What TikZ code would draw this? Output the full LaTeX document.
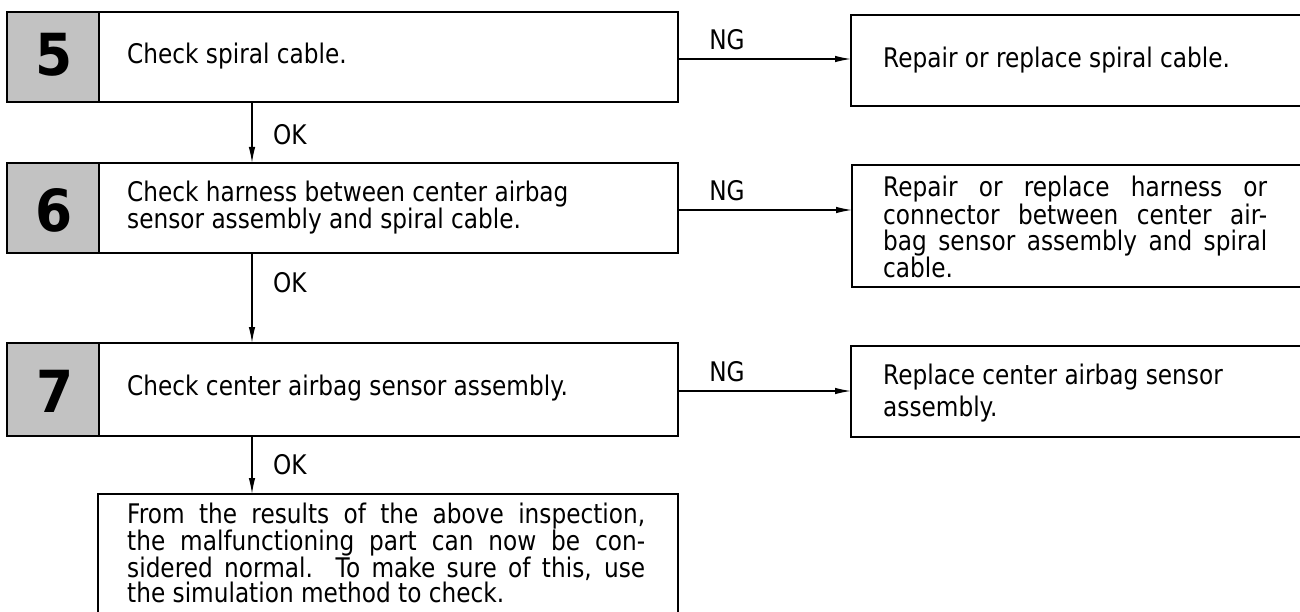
\documentclass[tikz,border=0pt]{standalone}
\usepackage{fontspec}
\setmainfont{DejaVu Sans}[FakeStretch=0.86]
\newfontfamily\digitfont{DejaVu Sans}[FakeStretch=0.92]
\usetikzlibrary{arrows.meta}
\newcommand{\bodyfont}{\fontsize{27}{26}\selectfont}
\newcommand{\numfont}{\fontsize{58}{58}\selectfont\digitfont\bfseries}
\begin{document}
\begin{tikzpicture}[x=1pt,y=-1pt,
  boxline/.style={draw=black,line width=1.9pt},
  numcell/.style={fill=black!24,draw=black,line width=1.9pt},
  conn/.style={line width=1.2pt,-{Latex[length=16pt,width=6.5pt]}},
  lbl/.style={font=\bodyfont,inner sep=0pt},
  txt/.style={font=\bodyfont,inner sep=0pt,anchor=west,align=left}]
\useasboundingbox (0,0) rectangle (1300,612);
% step 5
\draw[boxline] (7,12) rectangle (678,102);
\draw[numcell] (7,12) rectangle (99,102);
\node[inner sep=0pt] (n5) at (54,55) {\numfont 5};
\node[txt] (t5) at (127,56) {Check spiral cable.};
\coordinate (b5r) at (678,59);
\coordinate (b5b) at (252,102);
\draw[boxline] (851,15) rectangle (1310,106);
\node[txt] (r5) at (883,60) {Repair or replace spiral cable.};
\coordinate (r5l) at (851,59);
\draw[conn] (b5r) -- (r5l);
\node[lbl] (ng5) at (727,40) {NG};
% step 6
\draw[boxline] (7,163) rectangle (678,253);
\draw[numcell] (7,163) rectangle (99,253);
\node[inner sep=0pt] (n6) at (54,210) {\numfont 6};
\node[txt,font=\fontsize{27}{27}\selectfont] (t6) at (127,208) {Check harness between center airbag\\sensor assembly and spiral cable.};
\coordinate (b6t) at (252,163);
\coordinate (b6b) at (252,253);
\coordinate (b6r) at (678,210);
\draw[conn] (b5b) -- (b6t);
\node[lbl,anchor=west] (ok5) at (273,135) {OK};
\draw[boxline] (852,165) rectangle (1310,287);
\node[txt] (r6) at (883,227) {%
\makebox[384pt][s]{Repair or replace harness or}\\
\makebox[384pt][s]{connector between center air-}\\
\makebox[384pt][s]{bag sensor assembly and spiral}\\
cable.};
\coordinate (r6l) at (852,210);
\draw[conn] (b6r) -- (r6l);
\node[lbl] (ng6) at (727,191) {NG};
% step 7
\draw[boxline] (7,343) rectangle (678,436);
\draw[numcell] (7,343) rectangle (99,436);
\node[inner sep=0pt] (n7) at (55,391) {\numfont 7};
\node[txt] (t7) at (127,388) {Check center airbag sensor assembly.};
\coordinate (b7t) at (252,343);
\coordinate (b7b) at (252,436);
\coordinate (b7r) at (678,391);
\draw[conn] (b6b) -- (b7t);
\node[lbl,anchor=west] (ok6) at (273,283) {OK};
\draw[boxline] (851,346) rectangle (1310,437);
\node[txt,font=\fontsize{27}{32}\selectfont] (r7) at (883,393) {Replace center airbag sensor\\assembly.};
\coordinate (r7l) at (851,391);
\draw[conn] (b7r) -- (r7l);
\node[lbl] (ng7) at (727,372) {NG};
% final
\draw[boxline] (98,494) rectangle (678,630);
\coordinate (fbt) at (252,494);
\draw[conn] (b7b) -- (fbt);
\node[lbl,anchor=west] (ok7) at (273,465) {OK};
\node[txt,font=\fontsize{27}{23.5}\selectfont] (tf) at (127,553) {%
\makebox[518pt][s]{From the results of the above inspection,}\\
\makebox[518pt][s]{the malfunctioning part can now be con-}\\
\makebox[518pt][s]{sidered normal.\ \ To make sure of this, use}\\
the simulation method to check.};
\end{tikzpicture}
\end{document}
